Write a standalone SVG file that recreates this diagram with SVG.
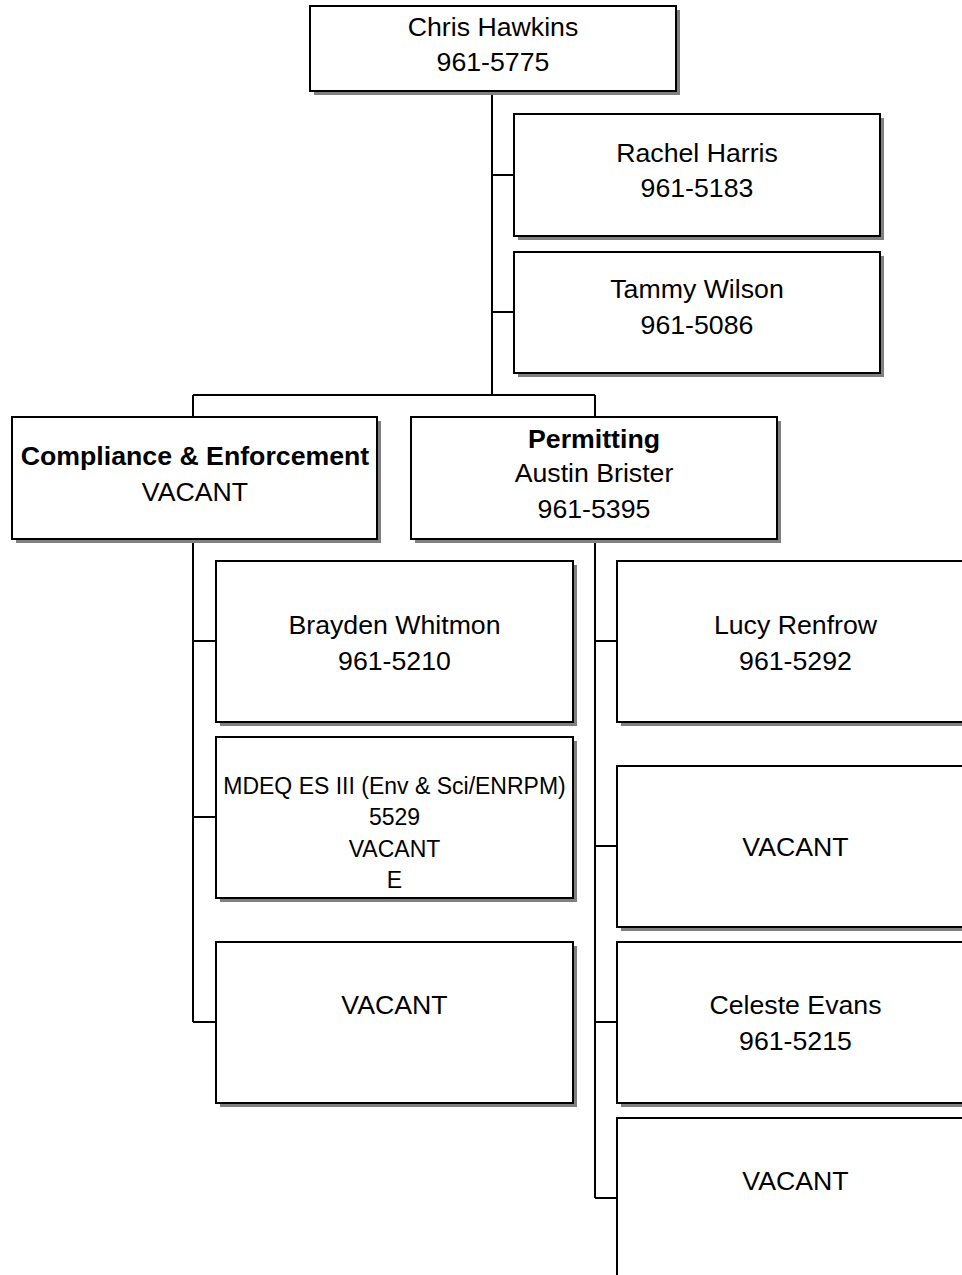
<svg xmlns="http://www.w3.org/2000/svg" width="962" height="1275" viewBox="0 0 962 1275">
<style>
.sh{fill:#808080}
.bx{fill:#fff;stroke:#000;stroke-width:2}
.ln{fill:none;stroke:#000;stroke-width:2}
text{font-family:"Liberation Sans",Arial,sans-serif;font-size:26.7px;text-anchor:middle;fill:#000}
.b{font-weight:bold}
.s{font-size:23px}
</style>
<rect width="962" height="1275" fill="#fff"/>
<g id="connectors">
<path class="ln" d="M492,91V395M492,175H514M492,312H514M193,395H595M193,395V417M595,395V417"/>
<path class="ln" d="M193,539V1022M193,641H216M193,817H216M193,1022H216"/>
<path class="ln" d="M595,539V1198M595,641H617M595,846H617M595,1022H617M595,1198H617"/>
</g>
<g id="n-hawkins"><rect class="sh" x="314" y="10" width="366" height="85"/><rect class="bx" x="310" y="6" width="366" height="85"/><text x="493" y="35.5">Chris Hawkins</text><text x="493" y="70.5">961-5775</text></g>
<g id="n-harris"><rect class="sh" x="518" y="118" width="366" height="122"/><rect class="bx" x="514" y="114" width="366" height="122"/><text x="697" y="161.5">Rachel Harris</text><text x="697" y="196.5">961-5183</text></g>
<g id="n-wilson"><rect class="sh" x="518" y="256" width="366" height="121"/><rect class="bx" x="514" y="252" width="366" height="121"/><text x="697" y="297.5">Tammy Wilson</text><text x="697" y="333.5">961-5086</text></g>
<g id="n-compliance"><rect class="sh" x="16" y="421" width="365" height="122"/><rect class="bx" x="12" y="417" width="365" height="122"/><text class="b" x="195" y="464.5">Compliance &amp; Enforcement</text><text x="195" y="500.5">VACANT</text></g>
<g id="n-permitting"><rect class="sh" x="415" y="421" width="366" height="122"/><rect class="bx" x="411" y="417" width="366" height="122"/><text class="b" x="594" y="447.5">Permitting</text><text x="594" y="481.5">Austin Brister</text><text x="594" y="517.5">961-5395</text></g>
<g id="n-whitmon"><rect class="sh" x="220" y="565" width="357" height="161"/><rect class="bx" x="216" y="561" width="357" height="161"/><text x="394.5" y="633.5">Brayden Whitmon</text><text x="394.5" y="669.5">961-5210</text></g>
<g id="n-mdeq"><rect class="sh" x="220" y="741" width="357" height="161"/><rect class="bx" x="216" y="737" width="357" height="161"/><text class="s" x="394.5" y="794">MDEQ ES III (Env &amp; Sci/ENRPM)</text><text class="s" x="394.5" y="825">5529</text><text class="s" x="394.5" y="857">VACANT</text><text class="s" x="394.5" y="888">E</text></g>
<g id="n-vacant-c"><rect class="sh" x="220" y="946" width="357" height="161"/><rect class="bx" x="216" y="942" width="357" height="161"/><text x="394.5" y="1013.5">VACANT</text></g>
<g id="n-renfrow"><rect class="sh" x="621" y="565" width="357" height="161"/><rect class="bx" x="617" y="561" width="357" height="161"/><text x="795.5" y="633.5">Lucy Renfrow</text><text x="795.5" y="669.5">961-5292</text></g>
<g id="n-vacant-p1"><rect class="sh" x="621" y="770" width="357" height="161"/><rect class="bx" x="617" y="766" width="357" height="161"/><text x="795.5" y="855.5">VACANT</text></g>
<g id="n-evans"><rect class="sh" x="621" y="946" width="357" height="161"/><rect class="bx" x="617" y="942" width="357" height="161"/><text x="795.5" y="1013.5">Celeste Evans</text><text x="795.5" y="1049.5">961-5215</text></g>
<g id="n-vacant-p2"><rect class="sh" x="621" y="1122" width="357" height="161"/><rect class="bx" x="617" y="1118" width="357" height="161"/><text x="795.5" y="1189.5">VACANT</text></g>
</svg>
